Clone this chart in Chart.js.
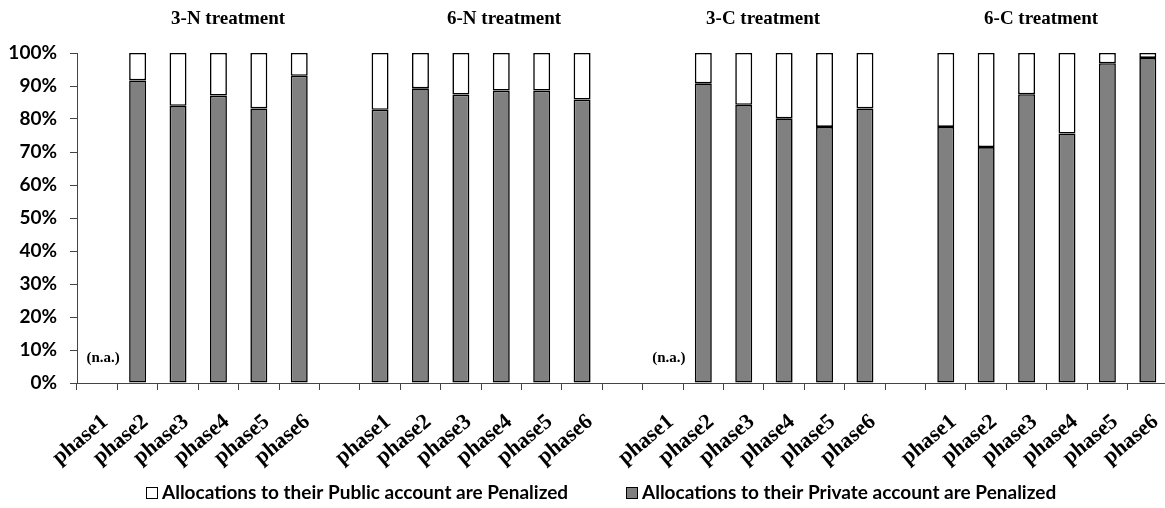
<!DOCTYPE html>
<html>
<head>
<meta charset="utf-8">
<script src="https://cdn.jsdelivr.net/npm/chart.js@4/dist/chart.umd.min.js"></script>
<style>
  html, body { margin: 0; padding: 0; background: #fff; overflow: hidden; }
  #wrap { width: 1172px; height: 508px; }
</style>
</head>
<body>
<div id="wrap"><canvas id="c" width="1172" height="508"></canvas></div>
<script>
// Phases shown within each treatment block
const phases = ['phase1', 'phase2', 'phase3', 'phase4', 'phase5', 'phase6'];
const treatments = ['3-N treatment', '6-N treatment', '3-C treatment', '6-C treatment'];

// Share of subjects (%) penalizing allocations to their Private account
const privateN3 = [null, 91.7, 84.0, 87.1, 83.2, 93.1];
const privateN6 = [82.8, 89.3, 87.4, 88.6, 88.6, 85.9];
const privateC3 = [null, 90.8, 84.3, 80.2, 77.6, 83.2];
const privateC6 = [77.6, 71.5, 87.5, 75.6, 96.9, 98.5];

// Share of subjects (%) penalizing allocations to their Public account
const publicN3 = [null, 8.3, 16.0, 12.9, 16.8, 6.9];
const publicN6 = [17.2, 10.7, 12.6, 11.4, 11.4, 14.1];
const publicC3 = [null, 9.2, 15.7, 19.8, 22.4, 16.8];
const publicC6 = [22.4, 28.5, 12.5, 24.4, 3.1, 1.5];

// Phase 1 was not run in the 3-person treatments
const naFlags = [true, false, true, false];

const legendPublic = 'Allocations to their Public account are Penalized';
const legendPrivate = 'Allocations to their Private account are Penalized';

// Build the category axis: four blocks of six phases separated by an empty slot
const privateGroups = [privateN3, privateN6, privateC3, privateC6];
const publicGroups = [publicN3, publicN6, publicC3, publicC6];
const labels = [], privateData = [], publicData = [], groupStart = [];
treatments.forEach((t, g) => {
  if (g > 0) { labels.push(''); privateData.push(null); publicData.push(null); }
  groupStart.push(labels.length);
  phases.forEach((p, i) => {
    labels.push(p);
    privateData.push(privateGroups[g][i]);
    publicData.push(publicGroups[g][i]);
  });
});

// Horizontal offset (in category slots) of each treatment heading from its block centre
const titleShift = [0.74, 0.57, -0.02, -0.14];

const annotations = {
  id: 'annotations',
  afterDraw(chart) {
    const ctx = chart.ctx;
    const x = chart.scales.x, y = chart.scales.y;
    ctx.save();
    ctx.fillStyle = '#000';
    ctx.textAlign = 'center';
    ctx.textBaseline = 'alphabetic';
    ctx.font = 'bold 19px "Liberation Serif"';
    treatments.forEach((t, g) => {
      const c = groupStart[g] + 2.5 + titleShift[g];
      ctx.fillText(t, x.getPixelForValue(c), 24);
    });
    ctx.font = 'bold 15px "Liberation Serif"';
    ctx.textBaseline = 'middle';
    naFlags.forEach((na, g) => {
      if (!na) return;
      ctx.fillText('(n.a.)', x.getPixelForValue(groupStart[g]) + 6, y.getPixelForValue(7.6));
    });

    // legend
    ctx.font = 'bold 19px Lato';
    ctx.textAlign = 'left';
    ctx.textBaseline = 'middle';
    const items = [
      { text: legendPublic, fill: '#ffffff', x: 146 },
      { text: legendPrivate, fill: '#808080', x: 626 }
    ];
    const ly = 493;
    items.forEach(it => {
      ctx.fillStyle = it.fill;
      ctx.fillRect(it.x, ly - 6, 12, 12);
      ctx.strokeStyle = '#000';
      ctx.lineWidth = 1;
      ctx.strokeRect(it.x + 0.5, ly - 5.5, 11, 11);
      ctx.fillStyle = '#000';
      ctx.fillText(it.text, it.x + 16, ly);
    });
    ctx.restore();
  }
};

new Chart(document.getElementById('c'), {
  type: 'bar',
  data: {
    labels: labels,
    datasets: [
      {
        label: legendPrivate,
        data: privateData,
        backgroundColor: '#808080',
        borderColor: '#000',
        borderWidth: 1.6,
        borderSkipped: false
      },
      {
        label: legendPublic,
        data: publicData,
        backgroundColor: '#ffffff',
        borderColor: '#000',
        borderWidth: 1.6,
        borderSkipped: false
      }
    ]
  },
  options: {
    responsive: false,
    animation: false,
    layout: { padding: { top: 53, right: 4, left: 0, bottom: 0 } },
    datasets: { bar: { barPercentage: 0.42, categoryPercentage: 1.0 } },
    plugins: { legend: { display: false }, tooltip: { enabled: false } },
    scales: {
      x: {
        stacked: true,
        grid: { drawOnChartArea: false, drawTicks: true, tickLength: 7, color: '#444', offset: true },
        border: { display: true, color: '#444', width: 1 },
        ticks: {
          autoSkip: false, minRotation: 40, maxRotation: 40, padding: 19, labelOffset: 8,
          color: '#000', font: { family: 'Liberation Serif', weight: 'bold', size: 22 }
        },
        afterFit(scale) {
          scale.height = 125;
          scale.paddingLeft = 0;
          scale.paddingRight = 0;
        }
      },
      y: {
        stacked: true,
        min: 0, max: 100,
        grid: { drawOnChartArea: false, drawTicks: true, tickLength: 7, color: '#444' },
        border: { display: true, color: '#444', width: 1 },
        ticks: {
          stepSize: 10, padding: 13, color: '#000',
          font: { family: 'Lato', weight: 'bold', size: 19 },
          callback: v => v + '%'
        },
        afterFit(scale) {
          scale.width = 77;
          scale.paddingTop = 0;
          scale.paddingBottom = 0;
        }
      }
    }
  },
  plugins: [annotations]
});
</script>
</body>
</html>
